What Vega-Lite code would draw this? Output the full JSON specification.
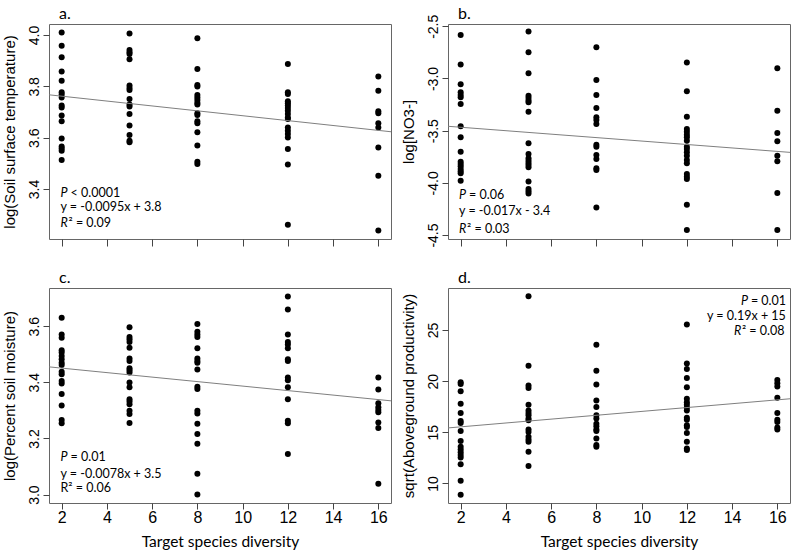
{
"$schema": "https://vega.github.io/schema/vega-lite/v6.json",
"padding": {"left": 1, "top": 5, "right": 2, "bottom": 0},
"background": "white",
"columns": 2,
"align": "each",
"spacing": {"row": 21, "column": 8},
"config": {
  "view": {"stroke": "#666666", "strokeWidth": 1},
  "axis": {"domain": false, "grid": false, "tickColor": "#444444", "tickWidth": 1, "labelColor": "black", "titleColor": "black", "labelFont": "Liberation Sans", "titleFont": "Liberation Sans", "titleFontWeight": "normal"},
  "title": {"font": "Lato", "fontSize": 16, "fontWeight": "normal", "anchor": "start", "frame": "group", "offset": 2, "dx": 10, "color": "black"}
},
"datasets": {
  "pts": [
    {"p":"a","x":2,"y":4.010},{"p":"a","x":2,"y":3.958},{"p":"a","x":2,"y":3.913},{"p":"a","x":2,"y":3.858},{"p":"a","x":2,"y":3.822},{"p":"a","x":2,"y":3.777},{"p":"a","x":2,"y":3.768},{"p":"a","x":2,"y":3.757},{"p":"a","x":2,"y":3.725},{"p":"a","x":2,"y":3.718},{"p":"a","x":2,"y":3.686},{"p":"a","x":2,"y":3.664},{"p":"a","x":2,"y":3.597},{"p":"a","x":2,"y":3.566},{"p":"a","x":2,"y":3.558},{"p":"a","x":2,"y":3.549},{"p":"a","x":2,"y":3.513},
    {"p":"a","x":5,"y":4.006},{"p":"a","x":5,"y":3.942},{"p":"a","x":5,"y":3.933},{"p":"a","x":5,"y":3.926},{"p":"a","x":5,"y":3.906},{"p":"a","x":5,"y":3.803},{"p":"a","x":5,"y":3.794},{"p":"a","x":5,"y":3.786},{"p":"a","x":5,"y":3.751},{"p":"a","x":5,"y":3.729},{"p":"a","x":5,"y":3.721},{"p":"a","x":5,"y":3.692},{"p":"a","x":5,"y":3.647},{"p":"a","x":5,"y":3.610},{"p":"a","x":5,"y":3.588},{"p":"a","x":5,"y":3.582},
    {"p":"a","x":8,"y":3.987},{"p":"a","x":8,"y":3.868},{"p":"a","x":8,"y":3.805},{"p":"a","x":8,"y":3.799},{"p":"a","x":8,"y":3.766},{"p":"a","x":8,"y":3.757},{"p":"a","x":8,"y":3.747},{"p":"a","x":8,"y":3.736},{"p":"a","x":8,"y":3.729},{"p":"a","x":8,"y":3.695},{"p":"a","x":8,"y":3.688},{"p":"a","x":8,"y":3.664},{"p":"a","x":8,"y":3.656},{"p":"a","x":8,"y":3.621},{"p":"a","x":8,"y":3.569},{"p":"a","x":8,"y":3.506},{"p":"a","x":8,"y":3.497},
    {"p":"a","x":12,"y":3.887},{"p":"a","x":12,"y":3.777},{"p":"a","x":12,"y":3.770},{"p":"a","x":12,"y":3.742},{"p":"a","x":12,"y":3.734},{"p":"a","x":12,"y":3.725},{"p":"a","x":12,"y":3.716},{"p":"a","x":12,"y":3.705},{"p":"a","x":12,"y":3.692},{"p":"a","x":12,"y":3.679},{"p":"a","x":12,"y":3.673},{"p":"a","x":12,"y":3.640},{"p":"a","x":12,"y":3.627},{"p":"a","x":12,"y":3.614},{"p":"a","x":12,"y":3.601},{"p":"a","x":12,"y":3.556},{"p":"a","x":12,"y":3.495},{"p":"a","x":12,"y":3.261},
    {"p":"a","x":16,"y":3.838},{"p":"a","x":16,"y":3.783},{"p":"a","x":16,"y":3.703},{"p":"a","x":16,"y":3.695},{"p":"a","x":16,"y":3.656},{"p":"a","x":16,"y":3.640},{"p":"a","x":16,"y":3.562},{"p":"a","x":16,"y":3.452},{"p":"a","x":16,"y":3.238},
    {"p":"b","x":2,"y":-2.583},{"p":"b","x":2,"y":-2.867},{"p":"b","x":2,"y":-3.056},{"p":"b","x":2,"y":-3.133},{"p":"b","x":2,"y":-3.158},{"p":"b","x":2,"y":-3.181},{"p":"b","x":2,"y":-3.244},{"p":"b","x":2,"y":-3.458},{"p":"b","x":2,"y":-3.564},{"p":"b","x":2,"y":-3.701},{"p":"b","x":2,"y":-3.797},{"p":"b","x":2,"y":-3.820},{"p":"b","x":2,"y":-3.842},{"p":"b","x":2,"y":-3.867},{"p":"b","x":2,"y":-3.890},{"p":"b","x":2,"y":-3.909},{"p":"b","x":2,"y":-3.979},
    {"p":"b","x":5,"y":-2.551},{"p":"b","x":5,"y":-2.749},{"p":"b","x":5,"y":-2.950},{"p":"b","x":5,"y":-3.165},{"p":"b","x":5,"y":-3.187},{"p":"b","x":5,"y":-3.212},{"p":"b","x":5,"y":-3.228},{"p":"b","x":5,"y":-3.318},{"p":"b","x":5,"y":-3.621},{"p":"b","x":5,"y":-3.724},{"p":"b","x":5,"y":-3.765},{"p":"b","x":5,"y":-3.788},{"p":"b","x":5,"y":-3.810},{"p":"b","x":5,"y":-3.829},{"p":"b","x":5,"y":-3.851},{"p":"b","x":5,"y":-3.986},{"p":"b","x":5,"y":-4.059},{"p":"b","x":5,"y":-4.081},{"p":"b","x":5,"y":-4.101},
    {"p":"b","x":8,"y":-2.701},{"p":"b","x":8,"y":-3.014},{"p":"b","x":8,"y":-3.158},{"p":"b","x":8,"y":-3.283},{"p":"b","x":8,"y":-3.372},{"p":"b","x":8,"y":-3.398},{"p":"b","x":8,"y":-3.436},{"p":"b","x":8,"y":-3.634},{"p":"b","x":8,"y":-3.653},{"p":"b","x":8,"y":-3.733},{"p":"b","x":8,"y":-3.772},{"p":"b","x":8,"y":-3.861},{"p":"b","x":8,"y":-3.877},{"p":"b","x":8,"y":-4.235},
    {"p":"b","x":12,"y":-2.848},{"p":"b","x":12,"y":-3.123},{"p":"b","x":12,"y":-3.366},{"p":"b","x":12,"y":-3.484},{"p":"b","x":12,"y":-3.510},{"p":"b","x":12,"y":-3.538},{"p":"b","x":12,"y":-3.564},{"p":"b","x":12,"y":-3.596},{"p":"b","x":12,"y":-3.653},{"p":"b","x":12,"y":-3.676},{"p":"b","x":12,"y":-3.708},{"p":"b","x":12,"y":-3.740},{"p":"b","x":12,"y":-3.781},{"p":"b","x":12,"y":-3.813},{"p":"b","x":12,"y":-3.915},{"p":"b","x":12,"y":-3.941},{"p":"b","x":12,"y":-3.963},{"p":"b","x":12,"y":-4.209},{"p":"b","x":12,"y":-4.452},
    {"p":"b","x":16,"y":-2.903},{"p":"b","x":16,"y":-3.308},{"p":"b","x":16,"y":-3.522},{"p":"b","x":16,"y":-3.602},{"p":"b","x":16,"y":-3.740},{"p":"b","x":16,"y":-3.794},{"p":"b","x":16,"y":-4.097},{"p":"b","x":16,"y":-4.452},
    {"p":"c","x":2,"y":3.630},{"p":"c","x":2,"y":3.570},{"p":"c","x":2,"y":3.559},{"p":"c","x":2,"y":3.514},{"p":"c","x":2,"y":3.506},{"p":"c","x":2,"y":3.494},{"p":"c","x":2,"y":3.482},{"p":"c","x":2,"y":3.470},{"p":"c","x":2,"y":3.462},{"p":"c","x":2,"y":3.438},{"p":"c","x":2,"y":3.429},{"p":"c","x":2,"y":3.405},{"p":"c","x":2,"y":3.396},{"p":"c","x":2,"y":3.358},{"p":"c","x":2,"y":3.317},{"p":"c","x":2,"y":3.266},{"p":"c","x":2,"y":3.254},
    {"p":"c","x":5,"y":3.596},{"p":"c","x":5,"y":3.561},{"p":"c","x":5,"y":3.553},{"p":"c","x":5,"y":3.544},{"p":"c","x":5,"y":3.523},{"p":"c","x":5,"y":3.485},{"p":"c","x":5,"y":3.476},{"p":"c","x":5,"y":3.450},{"p":"c","x":5,"y":3.443},{"p":"c","x":5,"y":3.435},{"p":"c","x":5,"y":3.399},{"p":"c","x":5,"y":3.382},{"p":"c","x":5,"y":3.340},{"p":"c","x":5,"y":3.332},{"p":"c","x":5,"y":3.322},{"p":"c","x":5,"y":3.299},{"p":"c","x":5,"y":3.287},{"p":"c","x":5,"y":3.255},
    {"p":"c","x":8,"y":3.608},{"p":"c","x":8,"y":3.580},{"p":"c","x":8,"y":3.570},{"p":"c","x":8,"y":3.561},{"p":"c","x":8,"y":3.521},{"p":"c","x":8,"y":3.485},{"p":"c","x":8,"y":3.476},{"p":"c","x":8,"y":3.470},{"p":"c","x":8,"y":3.446},{"p":"c","x":8,"y":3.384},{"p":"c","x":8,"y":3.376},{"p":"c","x":8,"y":3.299},{"p":"c","x":8,"y":3.289},{"p":"c","x":8,"y":3.252},{"p":"c","x":8,"y":3.216},{"p":"c","x":8,"y":3.181},{"p":"c","x":8,"y":3.074},{"p":"c","x":8,"y":3.000},
    {"p":"c","x":12,"y":3.706},{"p":"c","x":12,"y":3.659},{"p":"c","x":12,"y":3.570},{"p":"c","x":12,"y":3.544},{"p":"c","x":12,"y":3.535},{"p":"c","x":12,"y":3.521},{"p":"c","x":12,"y":3.482},{"p":"c","x":12,"y":3.476},{"p":"c","x":12,"y":3.417},{"p":"c","x":12,"y":3.407},{"p":"c","x":12,"y":3.382},{"p":"c","x":12,"y":3.340},{"p":"c","x":12,"y":3.263},{"p":"c","x":12,"y":3.254},{"p":"c","x":12,"y":3.145},
    {"p":"c","x":16,"y":3.417},{"p":"c","x":16,"y":3.374},{"p":"c","x":16,"y":3.325},{"p":"c","x":16,"y":3.311},{"p":"c","x":16,"y":3.301},{"p":"c","x":16,"y":3.293},{"p":"c","x":16,"y":3.257},{"p":"c","x":16,"y":3.237},{"p":"c","x":16,"y":3.039},
    {"p":"d","x":2,"y":19.89},{"p":"d","x":2,"y":19.73},{"p":"d","x":2,"y":19.02},{"p":"d","x":2,"y":17.79},{"p":"d","x":2,"y":16.88},{"p":"d","x":2,"y":16.11},{"p":"d","x":2,"y":15.92},{"p":"d","x":2,"y":15.14},{"p":"d","x":2,"y":14.14},{"p":"d","x":2,"y":13.59},{"p":"d","x":2,"y":13.33},{"p":"d","x":2,"y":13.04},{"p":"d","x":2,"y":12.78},{"p":"d","x":2,"y":12.55},{"p":"d","x":2,"y":11.87},{"p":"d","x":2,"y":10.26},{"p":"d","x":2,"y":8.90},
    {"p":"d","x":5,"y":28.30},{"p":"d","x":5,"y":21.51},{"p":"d","x":5,"y":19.57},{"p":"d","x":5,"y":19.34},{"p":"d","x":5,"y":17.69},{"p":"d","x":5,"y":17.14},{"p":"d","x":5,"y":16.88},{"p":"d","x":5,"y":16.66},{"p":"d","x":5,"y":16.34},{"p":"d","x":5,"y":16.17},{"p":"d","x":5,"y":15.27},{"p":"d","x":5,"y":15.04},{"p":"d","x":5,"y":14.56},{"p":"d","x":5,"y":14.30},{"p":"d","x":5,"y":14.07},{"p":"d","x":5,"y":13.10},{"p":"d","x":5,"y":11.71},
    {"p":"d","x":8,"y":23.55},{"p":"d","x":8,"y":21.02},{"p":"d","x":8,"y":19.67},{"p":"d","x":8,"y":18.11},{"p":"d","x":8,"y":17.47},{"p":"d","x":8,"y":16.66},{"p":"d","x":8,"y":16.34},{"p":"d","x":8,"y":15.85},{"p":"d","x":8,"y":15.59},{"p":"d","x":8,"y":15.27},{"p":"d","x":8,"y":15.14},{"p":"d","x":8,"y":14.40},{"p":"d","x":8,"y":13.75},{"p":"d","x":8,"y":13.59},
    {"p":"d","x":12,"y":25.55},{"p":"d","x":12,"y":21.73},{"p":"d","x":12,"y":21.18},{"p":"d","x":12,"y":20.31},{"p":"d","x":12,"y":19.41},{"p":"d","x":12,"y":18.28},{"p":"d","x":12,"y":17.95},{"p":"d","x":12,"y":17.69},{"p":"d","x":12,"y":17.40},{"p":"d","x":12,"y":17.14},{"p":"d","x":12,"y":16.43},{"p":"d","x":12,"y":16.24},{"p":"d","x":12,"y":15.69},{"p":"d","x":12,"y":15.53},{"p":"d","x":12,"y":14.94},{"p":"d","x":12,"y":14.07},{"p":"d","x":12,"y":13.43},{"p":"d","x":12,"y":13.26},
    {"p":"d","x":16,"y":20.12},{"p":"d","x":16,"y":19.79},{"p":"d","x":16,"y":19.47},{"p":"d","x":16,"y":18.37},{"p":"d","x":16,"y":16.88},{"p":"d","x":16,"y":16.24},{"p":"d","x":16,"y":16.01},{"p":"d","x":16,"y":15.46},{"p":"d","x":16,"y":15.27}
  ],
  "fit": [
    {"p":"a","x":1.44,"y":3.767},{"p":"a","x":16.56,"y":3.623},
    {"p":"b","x":1.44,"y":-3.458},{"p":"b","x":16.56,"y":-3.708},
    {"p":"c","x":1.44,"y":3.455},{"p":"c","x":16.56,"y":3.334},
    {"p":"d","x":1.44,"y":15.43},{"p":"d","x":16.56,"y":18.28}
  ]
},
"concat": [
  {
    "title": {"text": "a."},
    "width": 342, "height": 215,
    "layer": [
      {"data": {"name": "pts"}, "transform": [{"filter": "datum.p === 'a'"}], "mark": {"type": "circle", "size": 36, "color": "black", "opacity": 1},
       "encoding": {
        "x": {"field": "x", "type": "quantitative", "scale": {"domain": [1.44, 16.56], "nice": false, "zero": false}, "axis": {"values": [2,4,6,8,10,12,14,16], "labels": false, "title": null, "tickSize": 7}},
        "y": {"field": "y", "type": "quantitative", "scale": {"domain": [3.205, 4.043], "nice": false, "zero": false}, "axis": {"values": [3.4,3.6,3.8,4.0], "format": ".1f", "labelAngle": -90, "labelFontSize": 14, "tickSize": 6, "labelPadding": 2, "title": "log(Soil surface temperature)", "titleFontSize": 15, "titlePadding": 10}}
       }},
      {"data": {"name": "fit"}, "transform": [{"filter": "datum.p === 'a'"}], "mark": {"type": "line", "color": "#7f7f7f", "strokeWidth": 1, "clip": true},
       "encoding": {"x": {"field": "x", "type": "quantitative"}, "y": {"field": "y", "type": "quantitative"}}},
      {"data": {"values": [{"t": "P"}]}, "mark": {"type": "text", "font": "Lato", "fontSize": 12.5, "fontStyle": "italic", "align": "left", "baseline": "middle", "color": "black"}, "encoding": {"text": {"field": "t"}, "x": {"datum": 1.95, "type": "quantitative"}, "y": {"datum": 3.386, "type": "quantitative"}}},
      {"data": {"values": [{"t": "< 0.0001"}]}, "mark": {"type": "text", "font": "Lato", "fontSize": 12.5, "align": "left", "baseline": "middle", "color": "black", "dx": 10}, "encoding": {"text": {"field": "t"}, "x": {"datum": 1.95, "type": "quantitative"}, "y": {"datum": 3.386, "type": "quantitative"}}},
      {"data": {"values": [{"t": "y = -0.0095x + 3.8"}]}, "mark": {"type": "text", "font": "Lato", "fontSize": 12.5, "align": "left", "baseline": "middle", "color": "black"}, "encoding": {"text": {"field": "t"}, "x": {"datum": 1.95, "type": "quantitative"}, "y": {"datum": 3.328, "type": "quantitative"}}},
      {"data": {"values": [{"t": "R"}]}, "mark": {"type": "text", "font": "Lato", "fontSize": 12.5, "fontStyle": "italic", "align": "left", "baseline": "middle", "color": "black"}, "encoding": {"text": {"field": "t"}, "x": {"datum": 1.95, "type": "quantitative"}, "y": {"datum": 3.269, "type": "quantitative"}}},
      {"data": {"values": [{"t": "² = 0.09"}]}, "mark": {"type": "text", "font": "Lato", "fontSize": 12.5, "align": "left", "baseline": "middle", "color": "black", "dx": 8}, "encoding": {"text": {"field": "t"}, "x": {"datum": 1.95, "type": "quantitative"}, "y": {"datum": 3.269, "type": "quantitative"}}}
    ]
  },
  {
    "title": {"text": "b.", "offset": -8},
    "width": 342, "height": 215,
    "layer": [
      {"data": {"name": "pts"}, "transform": [{"filter": "datum.p === 'b'"}], "mark": {"type": "circle", "size": 36, "color": "black", "opacity": 1},
       "encoding": {
        "x": {"field": "x", "type": "quantitative", "scale": {"domain": [1.44, 16.56], "nice": false, "zero": false}, "axis": {"values": [2,4,6,8,10,12,14,16], "labels": false, "title": null, "tickSize": 7}},
        "y": {"field": "y", "type": "quantitative", "scale": {"domain": [-4.538, -2.478], "nice": false, "zero": false}, "axis": {"values": [-4.5,-4.0,-3.5,-3.0,-2.5], "labelExpr": "replace(format(datum.value, '.1f'), '\u2212', '-')", "labelAngle": -90, "labelFontSize": 14, "tickSize": 6, "labelPadding": 2, "title": "log[NO3-]", "titleFontSize": 15, "titlePadding": 10}}
       }},
      {"data": {"name": "fit"}, "transform": [{"filter": "datum.p === 'b'"}], "mark": {"type": "line", "color": "#7f7f7f", "strokeWidth": 1, "clip": true},
       "encoding": {"x": {"field": "x", "type": "quantitative"}, "y": {"field": "y", "type": "quantitative"}}},
      {"data": {"values": [{"t": "P"}]}, "mark": {"type": "text", "font": "Lato", "fontSize": 12.5, "fontStyle": "italic", "align": "left", "baseline": "middle", "color": "black"}, "encoding": {"text": {"field": "t"}, "x": {"datum": 1.93, "type": "quantitative"}, "y": {"datum": -4.114, "type": "quantitative"}}},
      {"data": {"values": [{"t": "= 0.06"}]}, "mark": {"type": "text", "font": "Lato", "fontSize": 12.5, "align": "left", "baseline": "middle", "color": "black", "dx": 10}, "encoding": {"text": {"field": "t"}, "x": {"datum": 1.93, "type": "quantitative"}, "y": {"datum": -4.114, "type": "quantitative"}}},
      {"data": {"values": [{"t": "y = -0.017x - 3.4"}]}, "mark": {"type": "text", "font": "Lato", "fontSize": 12.5, "align": "left", "baseline": "middle", "color": "black"}, "encoding": {"text": {"field": "t"}, "x": {"datum": 1.93, "type": "quantitative"}, "y": {"datum": -4.274, "type": "quantitative"}}},
      {"data": {"values": [{"t": "R"}]}, "mark": {"type": "text", "font": "Lato", "fontSize": 12.5, "fontStyle": "italic", "align": "left", "baseline": "middle", "color": "black"}, "encoding": {"text": {"field": "t"}, "x": {"datum": 1.93, "type": "quantitative"}, "y": {"datum": -4.443, "type": "quantitative"}}},
      {"data": {"values": [{"t": "² = 0.03"}]}, "mark": {"type": "text", "font": "Lato", "fontSize": 12.5, "align": "left", "baseline": "middle", "color": "black", "dx": 8}, "encoding": {"text": {"field": "t"}, "x": {"datum": 1.93, "type": "quantitative"}, "y": {"datum": -4.443, "type": "quantitative"}}}
    ]
  },
  {
    "title": {"text": "c."},
    "width": 342, "height": 215,
    "layer": [
      {"data": {"name": "pts"}, "transform": [{"filter": "datum.p === 'c'"}], "mark": {"type": "circle", "size": 36, "color": "black", "opacity": 1},
       "encoding": {
        "x": {"field": "x", "type": "quantitative", "scale": {"domain": [1.44, 16.56], "nice": false, "zero": false}, "axis": {"values": [2,4,6,8,10,12,14,16], "labelFontSize": 16, "labelPadding": 0, "tickSize": 6, "title": "Target species diversity", "titleFont": "Lato", "titleFontSize": 15.5, "titlePadding": 9}},
        "y": {"field": "y", "type": "quantitative", "scale": {"domain": [2.970, 3.736], "nice": false, "zero": false}, "axis": {"values": [3.0,3.2,3.4,3.6], "format": ".1f", "labelAngle": -90, "labelFontSize": 14, "tickSize": 6, "labelPadding": 2, "title": "log(Percent soil moisture)", "titleFontSize": 15, "titlePadding": 10}}
       }},
      {"data": {"name": "fit"}, "transform": [{"filter": "datum.p === 'c'"}], "mark": {"type": "line", "color": "#7f7f7f", "strokeWidth": 1, "clip": true},
       "encoding": {"x": {"field": "x", "type": "quantitative"}, "y": {"field": "y", "type": "quantitative"}}},
      {"data": {"values": [{"t": "P"}]}, "mark": {"type": "text", "font": "Lato", "fontSize": 12.5, "fontStyle": "italic", "align": "left", "baseline": "middle", "color": "black"}, "encoding": {"text": {"field": "t"}, "x": {"datum": 1.95, "type": "quantitative"}, "y": {"datum": 3.134, "type": "quantitative"}}},
      {"data": {"values": [{"t": "= 0.01"}]}, "mark": {"type": "text", "font": "Lato", "fontSize": 12.5, "align": "left", "baseline": "middle", "color": "black", "dx": 10}, "encoding": {"text": {"field": "t"}, "x": {"datum": 1.95, "type": "quantitative"}, "y": {"datum": 3.134, "type": "quantitative"}}},
      {"data": {"values": [{"t": "y = -0.0078x + 3.5"}]}, "mark": {"type": "text", "font": "Lato", "fontSize": 12.5, "align": "left", "baseline": "middle", "color": "black"}, "encoding": {"text": {"field": "t"}, "x": {"datum": 1.95, "type": "quantitative"}, "y": {"datum": 3.074, "type": "quantitative"}}},
      {"data": {"values": [{"t": "R² = 0.06"}]}, "mark": {"type": "text", "font": "Lato", "fontSize": 12.5, "align": "left", "baseline": "middle", "color": "black"}, "encoding": {"text": {"field": "t"}, "x": {"datum": 1.95, "type": "quantitative"}, "y": {"datum": 3.022, "type": "quantitative"}}}
    ]
  },
  {
    "title": {"text": "d."},
    "width": 342, "height": 215,
    "layer": [
      {"data": {"name": "pts"}, "transform": [{"filter": "datum.p === 'd'"}], "mark": {"type": "circle", "size": 36, "color": "black", "opacity": 1},
       "encoding": {
        "x": {"field": "x", "type": "quantitative", "scale": {"domain": [1.44, 16.56], "nice": false, "zero": false}, "axis": {"values": [2,4,6,8,10,12,14,16], "labelFontSize": 16, "labelPadding": 0, "tickSize": 6, "title": "Target species diversity", "titleFont": "Lato", "titleFontSize": 15.5, "titlePadding": 9}},
        "y": {"field": "y", "type": "quantitative", "scale": {"domain": [8.09, 29.11], "nice": false, "zero": false}, "axis": {"values": [10,15,20,25], "format": "d", "labelAngle": -90, "labelFontSize": 14, "tickSize": 6, "labelPadding": 2, "title": "sqrt(Aboveground productivity)", "titleFontSize": 15, "titlePadding": 10}}
       }},
      {"data": {"name": "fit"}, "transform": [{"filter": "datum.p === 'd'"}], "mark": {"type": "line", "color": "#7f7f7f", "strokeWidth": 1, "clip": true},
       "encoding": {"x": {"field": "x", "type": "quantitative"}, "y": {"field": "y", "type": "quantitative"}}},
      {"data": {"values": [{"t": "P"}]}, "mark": {"type": "text", "font": "Lato", "fontSize": 12.5, "fontStyle": "italic", "align": "left", "baseline": "middle", "color": "black"}, "encoding": {"text": {"field": "t"}, "x": {"datum": 14.39, "type": "quantitative"}, "y": {"datum": 27.85, "type": "quantitative"}}},
      {"data": {"values": [{"t": "= 0.01"}]}, "mark": {"type": "text", "font": "Lato", "fontSize": 12.5, "align": "left", "baseline": "middle", "color": "black", "dx": 10}, "encoding": {"text": {"field": "t"}, "x": {"datum": 14.39, "type": "quantitative"}, "y": {"datum": 27.85, "type": "quantitative"}}},
      {"data": {"values": [{"t": "y = 0.19x + 15"}]}, "mark": {"type": "text", "font": "Lato", "fontSize": 12.5, "align": "left", "baseline": "middle", "color": "black"}, "encoding": {"text": {"field": "t"}, "x": {"datum": 12.89, "type": "quantitative"}, "y": {"datum": 26.40, "type": "quantitative"}}},
      {"data": {"values": [{"t": "R"}]}, "mark": {"type": "text", "font": "Lato", "fontSize": 12.5, "fontStyle": "italic", "align": "left", "baseline": "middle", "color": "black"}, "encoding": {"text": {"field": "t"}, "x": {"datum": 14.08, "type": "quantitative"}, "y": {"datum": 24.94, "type": "quantitative"}}},
      {"data": {"values": [{"t": "² = 0.08"}]}, "mark": {"type": "text", "font": "Lato", "fontSize": 12.5, "align": "left", "baseline": "middle", "color": "black", "dx": 8}, "encoding": {"text": {"field": "t"}, "x": {"datum": 14.08, "type": "quantitative"}, "y": {"datum": 24.94, "type": "quantitative"}}}
    ]
  }
]
}
